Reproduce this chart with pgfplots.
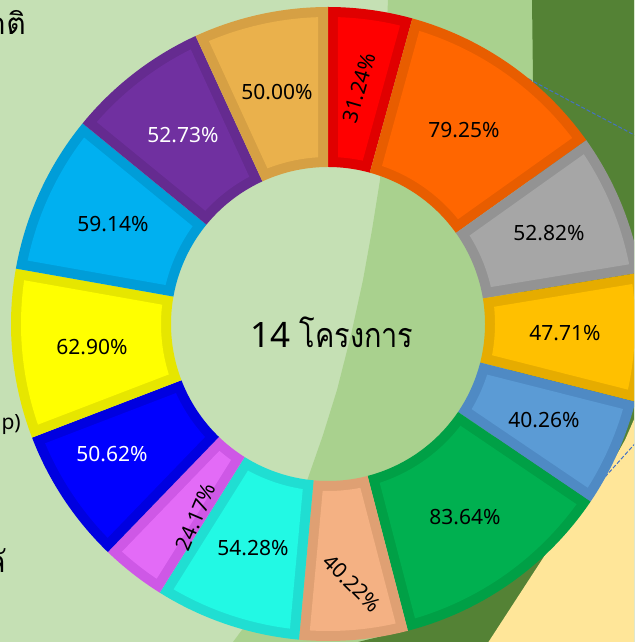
\documentclass[border=0pt]{standalone}
\usepackage{pgfplots}
\pgfplotsset{compat=1.18}
\usepackage{pgfplotstable}
\usepackage{fontspec}
\setmainfont{Noto Sans}
\newfontfamily\thaifont[Script=Thai]{Loma}
\newfontfamily\thaicenter[Script=Thai, FakeStretch=0.85]{Loma}

\definecolor{bgA}{HTML}{C5E0B4}
\definecolor{bgB}{HTML}{A9D18E}
\definecolor{bgC}{HTML}{548235}
\definecolor{bgD}{HTML}{FFE699}
\definecolor{dashc}{HTML}{4472C4}
\definecolor{f1}{HTML}{FF0000}\definecolor{e1}{HTML}{E00000}
\definecolor{f2}{HTML}{FF6600}\definecolor{e2}{HTML}{E85D00}
\definecolor{f3}{HTML}{A6A6A6}\definecolor{e3}{HTML}{939393}
\definecolor{f4}{HTML}{FFC000}\definecolor{e4}{HTML}{E6AC00}
\definecolor{f5}{HTML}{5B9BD5}\definecolor{e5}{HTML}{4F8AC4}
\definecolor{f6}{HTML}{00B050}\definecolor{e6}{HTML}{00A046}
\definecolor{f7}{HTML}{F4B183}\definecolor{e7}{HTML}{DFA073}
\definecolor{f8}{HTML}{22F9E4}\definecolor{e8}{HTML}{20DED2}
\definecolor{f9}{HTML}{E36BF7}\definecolor{e9}{HTML}{CE58E6}
\definecolor{f10}{HTML}{0000FF}\definecolor{e10}{HTML}{0000E0}
\definecolor{f11}{HTML}{FFFF00}\definecolor{e11}{HTML}{E6E600}
\definecolor{f12}{HTML}{00B0F0}\definecolor{e12}{HTML}{009DD8}
\definecolor{f13}{HTML}{7030A0}\definecolor{e13}{HTML}{652B90}
\definecolor{f14}{HTML}{EAB14C}\definecolor{e14}{HTML}{D6A044}

\pgfplotstableread{
id value lx ly rot tc
1 31.24 359 88 74 black
2 79.25 464 130 0 black
3 52.82 549 233 0 black
4 47.71 565 333 0 black
5 40.26 544 420 0 black
6 83.64 465 517 0 black
7 40.22 352 583 -45 black
8 54.28 253 548 0 black
9 24.17 196 517 67 black
10 50.62 112 454 0 white
11 62.90 92 347 0 black
12 59.14 113 224 0 black
13 52.73 183 135 0 white
14 50.00 277 92 0 black
}\datatable

\newcommand\labfont{\fontsize{21}{21}\selectfont}
\newcommand\cx{328}
\newcommand\cy{318}
% #1,#2 outer angles  #3 outer radius  #4,#5 inner angles  #6 inner radius
\newcommand\buildwedge[6]{%
  \gdef\coords{}%
  \foreach \k in {0,...,48}{%
    \pgfmathsetmacro{\ang}{#1+(#2-#1)*\k/48}%
    \pgfmathsetmacro{\px}{\cx+#3*sin(\ang)}%
    \pgfmathsetmacro{\py}{\cy+#3*cos(\ang)}%
    \xdef\coords{\coords(\px,\py)}%
  }%
  \foreach \k in {48,...,0}{%
    \pgfmathsetmacro{\ang}{#4+(#5-#4)*\k/48}%
    \pgfmathsetmacro{\px}{\cx+#6*sin(\ang)}%
    \pgfmathsetmacro{\py}{\cy+#6*cos(\ang)}%
    \xdef\coords{\coords(\px,\py)}%
  }%
}

\begin{document}
\begin{tikzpicture}
\path[use as bounding box, clip] (0,0) rectangle (634pt,642pt);
\pgfplotstablegetrowsof{\datatable}
\pgfmathtruncatemacro{\nrows}{\pgfplotsretval-1}
\def\total{0}
\pgfplotsforeachungrouped \i in {0,...,\nrows}{%
  \pgfplotstablegetelem{\i}{value}\of\datatable
  \pgfmathsetmacro{\total}{\total+\pgfplotsretval}%
}
\begin{axis}[at={(0,0)}, anchor=south west, width=634pt, height=642pt,
  scale only axis, xmin=0, xmax=634, ymin=0, ymax=642, hide axis, clip=false]
% background
\addplot[fill=bgA, draw=none] coordinates {(-10,-10)(650,-10)(650,660)(-10,660)};
\addplot[fill=bgB, draw=none] coordinates {(389,660)(388,642)(384,552)(380,462)(372,412)(363,362)(351,307)(337,252)(323,207)(308,164)(285,102)(265,52)(253,27)(233,0)(225,-10)(700,-10)(700,660)};
\addplot[fill=bgC, draw=none] coordinates {(532,660)(532,642)(533,562)(530,442)(520,342)(500,222)(460,102)(420,32)(407,12)(358,0)(340,-10)(700,-10)(700,660)};
\addplot[fill=bgD, draw=none] coordinates {(480,-13)(547,90)(590,140)(625,202)(660,282)(660,-13)};
\addplot[dashc, line width=1pt, dash pattern=on 4pt off 2pt] coordinates {(523,566)(640,504)};
\addplot[dashc, line width=1pt, dash pattern=on 4pt off 2pt] coordinates {(605,165)(640,204)};
% segments
\pgfmathsetmacro{\Ro}{317}
\pgfmathsetmacro{\Ri}{157}
\pgfmathsetmacro{\bw}{10}
\pgfmathsetmacro{\dO}{asin(\bw/(\Ro-\bw))}
\pgfmathsetmacro{\dI}{asin(\bw/(\Ri+\bw))}
\pgfmathsetmacro{\rO}{\Ro-\bw}
\pgfmathsetmacro{\rI}{\Ri+\bw}
\def\cum{0}
\pgfplotsforeachungrouped \i in {0,...,\nrows}{%
  \pgfplotstablegetelem{\i}{value}\of\datatable \let\val\pgfplotsretval
  \pgfmathsetmacro{\aA}{\cum/\total*360}%
  \pgfmathsetmacro{\cum}{\cum+\val}%
  \pgfmathsetmacro{\aB}{\cum/\total*360}%
  \pgfmathtruncatemacro{\segid}{\i+1}%
  \buildwedge{\aA}{\aB}{\Ro}{\aA}{\aB}{\Ri}%
  \edef\cmd{\noexpand\addplot[fill=e\segid, draw=none, forget plot] coordinates {\coords};}\cmd
  \pgfmathsetmacro{\oA}{\aA+\dO}\pgfmathsetmacro{\oB}{\aB-\dO}%
  \pgfmathsetmacro{\iA}{\aA+\dI}\pgfmathsetmacro{\iB}{\aB-\dI}%
  \buildwedge{\oA}{\oB}{\rO}{\iA}{\iB}{\rI}%
  \edef\cmd{\noexpand\addplot[fill=f\segid, draw=none, forget plot] coordinates {\coords};}\cmd
}
% labels
\pgfplotsforeachungrouped \i in {0,...,\nrows}{%
  \pgfplotstablegetelem{\i}{value}\of\datatable \let\val\pgfplotsretval
  \pgfplotstablegetelem{\i}{lx}\of\datatable \let\lx\pgfplotsretval
  \pgfplotstablegetelem{\i}{ly}\of\datatable \pgfmathsetmacro{\lyy}{642-\pgfplotsretval}%
  \pgfplotstablegetelem{\i}{rot}\of\datatable \let\rot\pgfplotsretval
  \pgfplotstablegetelem{\i}{tc}\of\datatable \let\tc\pgfplotsretval
  \edef\cmd{\noexpand\node[rotate=\rot, text=\tc, font=\noexpand\labfont, inner sep=0pt] at (axis cs:\lx,\lyy) {\val\noexpand\%};}\cmd
}
\node[font=\fontsize{35}{35}\selectfont, inner sep=0pt] at (axis cs:332,310) {14 {\thaicenter\fontsize{34}{34}\selectfont โครงการ}};
\node[anchor=base east, font=\fontsize{30}{30}\selectfont\thaifont, inner sep=0pt] at (axis cs:26,607) {าติ};
\node[anchor=base east, font=\fontsize{21}{21}\selectfont, inner sep=0pt] at (axis cs:21,212) {p)};
\node[anchor=base east, font=\fontsize{30}{30}\selectfont\thaifont, inner sep=0pt] at (axis cs:6,69) {ลั};
\end{axis}
\end{tikzpicture}
\end{document}
